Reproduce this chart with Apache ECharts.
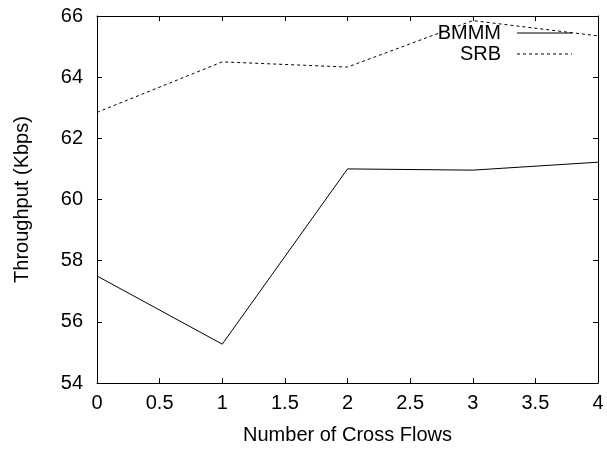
<!DOCTYPE html>
<html><head><meta charset="utf-8">
<script src="https://cdn.jsdelivr.net/npm/echarts@6/dist/echarts.min.js"></script>
<style>html,body{margin:0;padding:0;background:#fff}#c{width:607px;height:450px}</style>
</head><body><div id="c"></div>
<script>
const xValues = [0, 1, 2, 3, 4];
const bmmm = [57.5, 55.27, 61.0, 60.96, 61.22];
const srb = [62.85, 64.5, 64.33, 65.85, 65.35];
const seriesNames = ['BMMM', 'SRB'];
const xTitle = 'Number of Cross Flows';
const yTitle = 'Throughput (Kbps)';

const chart = echarts.init(document.getElementById('c'), null, {renderer: 'canvas'});
const font = 'Liberation Sans, Arial, Helvetica, sans-serif';
const axisCommon = {
  axisLine: {show: true, onZero: false, lineStyle: {color: '#000', width: 1}},
  axisTick: {show: true, inside: true, length: 5, lineStyle: {color: '#000'}},
  splitLine: {show: false}
};
chart.setOption({
  animation: false,
  grid: {left: 97, right: 9, top: 16, bottom: 65},
  xAxis: [
    Object.assign({type: 'value', min: 0, max: 4, interval: 0.5, position: 'bottom',
      name: xTitle, nameLocation: 'middle', nameGap: 42,
      nameTextStyle: {fontFamily: font, fontSize: 20, color: '#000'},
      axisLabel: {fontFamily: font, fontSize: 20, color: '#000', margin: 10}}, axisCommon),
    Object.assign({type: 'value', min: 0, max: 4, interval: 0.5, position: 'top',
      axisLabel: {show: false}}, axisCommon)
  ],
  yAxis: [
    Object.assign({type: 'value', min: 54, max: 66, interval: 2, position: 'left',
      name: yTitle, nameLocation: 'middle', nameGap: 65,
      nameTextStyle: {fontFamily: font, fontSize: 20, color: '#000'},
      axisLabel: {fontFamily: font, fontSize: 20, color: '#000', margin: 14}}, axisCommon),
    Object.assign({type: 'value', min: 54, max: 66, interval: 2, position: 'right',
      axisLabel: {show: false}}, axisCommon)
  ],
  series: [
    {name: seriesNames[0], type: 'line', showSymbol: false, symbol: 'none',
     data: xValues.map((x, i) => [x, bmmm[i]]),
     lineStyle: {color: '#000', width: 1}},
    {name: seriesNames[1], type: 'line', showSymbol: false, symbol: 'none',
     data: xValues.map((x, i) => [x, srb[i]]),
     lineStyle: {color: '#000', width: 1, type: [3, 3]}}
  ],
  graphic: [
    {type: 'text', x: 501, y: 33, style: {text: seriesNames[0], font: '20px ' + font, fill: '#000', align: 'right', verticalAlign: 'middle'}},
    {type: 'text', x: 501, y: 54, style: {text: seriesNames[1], font: '20px ' + font, fill: '#000', align: 'right', verticalAlign: 'middle'}},
    {type: 'line', shape: {x1: 517, y1: 33, x2: 572, y2: 33}, style: {stroke: '#000', lineWidth: 1}},
    {type: 'line', shape: {x1: 517, y1: 54, x2: 572, y2: 54}, style: {stroke: '#000', lineWidth: 1, lineDash: [3, 3]}}
  ]
});
</script></body></html>
